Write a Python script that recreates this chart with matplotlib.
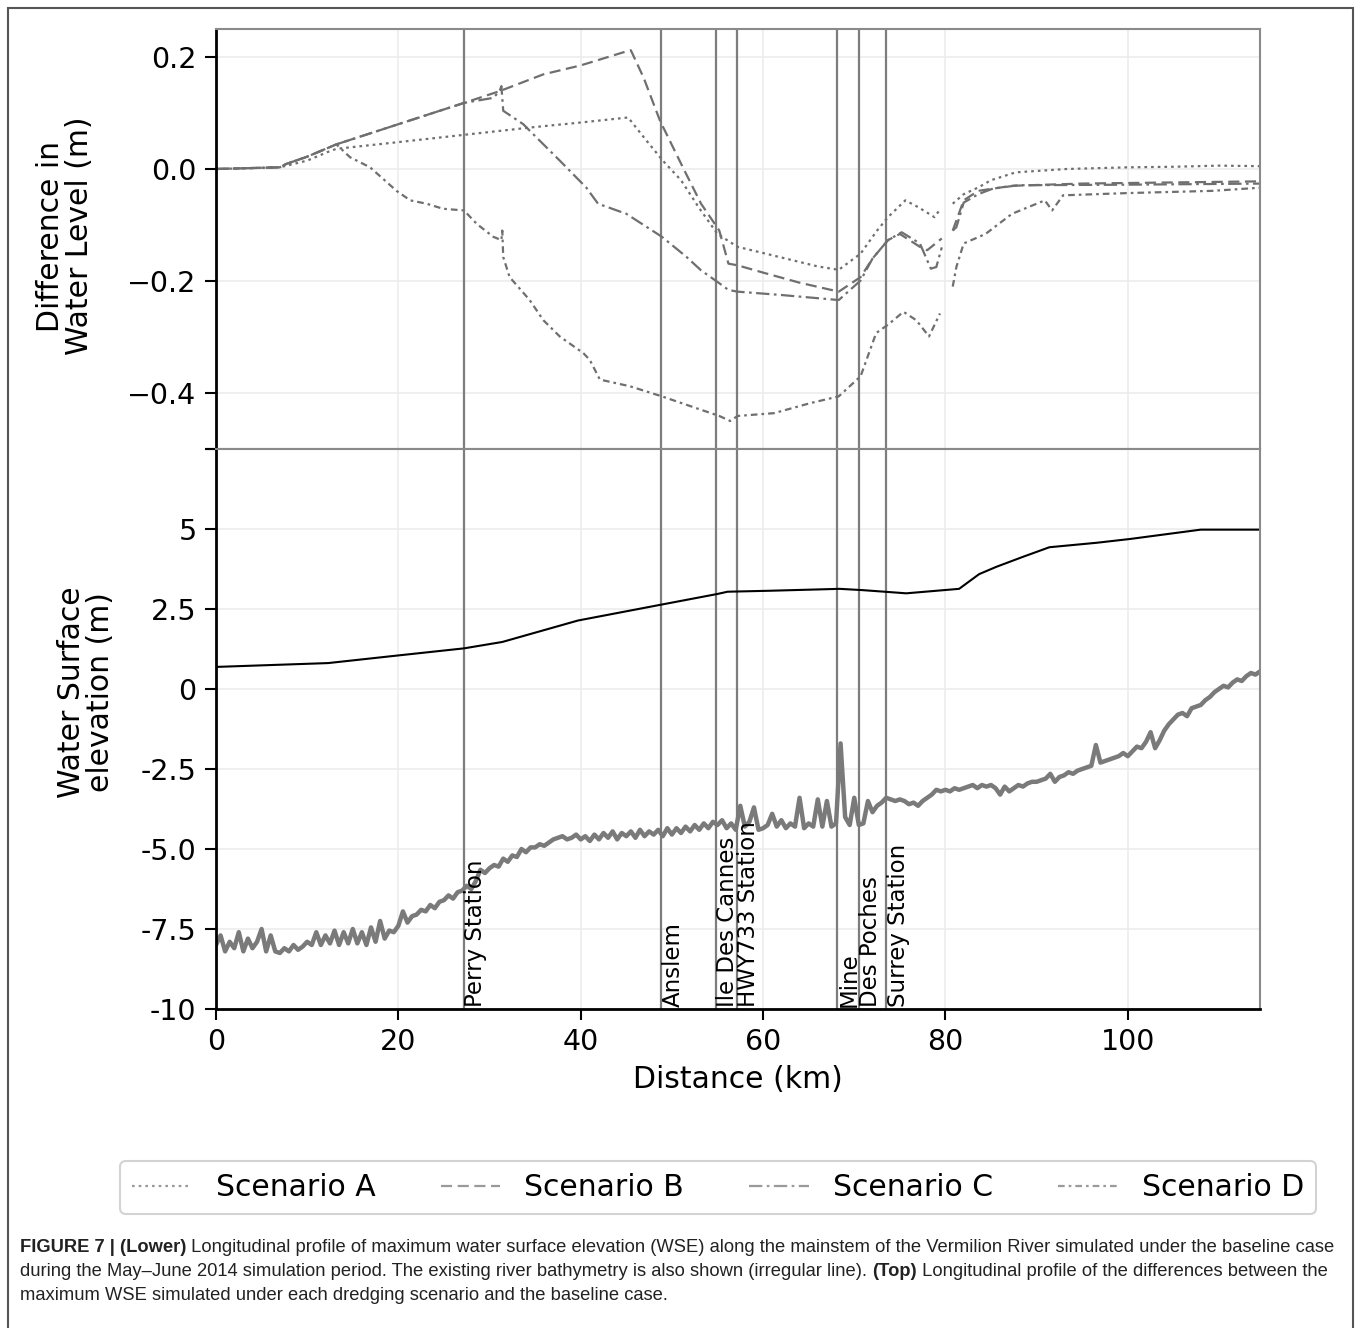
import numpy as np
import matplotlib
matplotlib.use("Agg")
import matplotlib.pyplot as plt
from matplotlib import font_manager
from matplotlib.patches import Rectangle

# ---- data ----
stations = ["Perry Station", "Anslem", "Ile Des Cannes", "HWY733 Station",
            "Mine", "Des Poches", "Surrey Station"]
station_km = [27.2, 48.8, 54.8, 57.1, 68.1, 70.5, 73.5]

nan = np.nan
a_x = [0, 7, 10, 12.5, 13.2, 20, 27.2, 35, 40, 45.2, 47, 49, 51, 53, 55, 57.2, 60, 63, 66,
       68.3, 70.7, 72.5, 73.7, 75.6, 77, 78.8, 79.5, nan, 80.8, 82, 83.6, 85, 87.7, 93.3,
       100, 105, 110, 114.9]
a_y = [0, 0.003, 0.015, 0.032, 0.036, 0.048, 0.061, 0.075, 0.083, 0.092, 0.055, 0.015,
       -0.02, -0.07, -0.116, -0.139, -0.150, -0.162, -0.174, -0.180, -0.151, -0.11, -0.086,
       -0.056, -0.068, -0.086, -0.07, nan, -0.062, -0.045, -0.033, -0.02, -0.006, 0.0,
       0.003, 0.004, 0.006, 0.005]

b_x = [0, 7, 7.7, 10, 13.2, 20, 27.2, 31.1, 35.9, 40, 45.0, 45.5, 46.9, 48.7, 51.2, 53.2,
       55.2, 56.2, 57.2, 60, 64, 68.3, 70.7, 72, 73.7, 75.0, 77.2, 78.0, 79.6, nan, 80.8,
       82.0, 83.6, 87.3, 95, 105, 114.9]
b_y = [0, 0.003, 0.009, 0.022, 0.044, 0.080, 0.118, 0.139, 0.169, 0.185, 0.210, 0.212,
       0.163, 0.086, 0.003, -0.062, -0.11, -0.169, -0.172, -0.185, -0.203, -0.219, -0.193,
       -0.16, -0.127, -0.116, -0.139, -0.145, -0.124, nan, -0.11, -0.056, -0.039, -0.030,
       -0.026, -0.024, -0.022]

c_x = [0, 7, 7.7, 10, 13.2, 20, 27.2, 30.4, 31.1, 31.3, 31.5, 33.7, 34.8, 37.7, 40.6, 41.9,
       45.0, 48.9, 51.6, 53.2, 55.2, 56.2, 57.2, 62, 68.3, 70.7, 72, 73.7, 75.2, 77.2, 78.4,
       79.0, 79.6, nan, 80.8, 81.2, 82.0, 83.6, 85.2, 88, 100, 114.9]
c_y = [0, 0.003, 0.009, 0.022, 0.044, 0.080, 0.118, 0.127, 0.139, 0.148, 0.104, 0.08,
       0.062, 0.015, -0.033, -0.062, -0.08, -0.121, -0.157, -0.181, -0.204, -0.216, -0.219,
       -0.225, -0.234, -0.199, -0.16, -0.127, -0.113, -0.133, -0.178, -0.175, -0.14, nan,
       -0.11, -0.104, -0.06, -0.045, -0.035, -0.029, -0.028, -0.026]

d_x = [0, 7, 7.7, 10, 13.2, 14.7, 16.9, 19.8, 21.3, 23.1, 24.9, 27.2, 28.6, 30.4, 31.3,
       31.4, 31.5, 32.2, 34.4, 35.9, 37.7, 40.3, 41.0, 42.1, 45.4, 48.9, 53.2, 55.2, 56.4,
       57.2, 61.2, 65.2, 68.3, 70.7, 72.4, 73.7, 75.4, 76.8, 78.2, 79.4, nan, 80.8, 81.2,
       82.0, 84.4, 87.3, 90.9, 91.7, 92.9, 100, 109.3, 114.9]
d_y = [0, 0.003, 0.009, 0.022, 0.044, 0.021, 0.003, -0.039, -0.056, -0.062, -0.071, -0.074,
       -0.098, -0.121, -0.127, -0.11, -0.157, -0.193, -0.234, -0.270, -0.299, -0.329,
       -0.341, -0.376, -0.388, -0.406, -0.43, -0.441, -0.45, -0.441, -0.436, -0.418, -0.406,
       -0.370, -0.293, -0.278, -0.255, -0.27, -0.299, -0.258, nan, -0.21, -0.175, -0.133,
       -0.116, -0.08, -0.056, -0.074, -0.047, -0.043, -0.039, -0.033]

wse_x = [0, 12.3, 19.7, 27.2, 31.4, 39.7, 48.9, 55.0, 56.1, 60.7, 68.4, 70.9, 73.8, 75.7,
         81.5, 83.7, 85.6, 88.5, 91.4, 96.6, 100.3, 108.0, 114.9]
wse_y = [0.69, 0.81, 1.04, 1.27, 1.47, 2.14, 2.64, 2.97, 3.04, 3.07, 3.13, 3.09, 3.03, 2.99,
         3.13, 3.59, 3.82, 4.13, 4.43, 4.57, 4.69, 4.98, 4.98]

bed_y = [
    -8.0, -7.7, -8.2, -7.9, -8.1, -7.6, -8.2, -7.8, -8.1, -7.9,
    -7.5, -8.2, -7.7, -8.2, -8.25, -8.1, -8.2, -8.0, -8.15, -8.05,
    -7.9, -8.0, -7.6, -8.0, -7.7, -7.95, -7.55, -8.0, -7.6, -7.95,
    -7.5, -7.95, -7.6, -8.0, -7.45, -7.9, -7.25, -7.8, -7.55, -7.6,
    -7.4, -6.95, -7.3, -7.1, -7.05, -6.9, -6.95, -6.75, -6.85, -6.65,
    -6.6, -6.45, -6.55, -6.35, -6.3, -6.15, -6.25, -6.0, -5.65, -5.75,
    -5.6, -5.5, -5.55, -5.3, -5.4, -5.2, -5.25, -5.0, -5.1, -4.95,
    -4.95, -4.85, -4.9, -4.8, -4.7, -4.65, -4.6, -4.7, -4.65, -4.55,
    -4.7, -4.6, -4.75, -4.55, -4.7, -4.5, -4.65, -4.45, -4.7, -4.5,
    -4.6, -4.45, -4.65, -4.4, -4.6, -4.45, -4.55, -4.4, -4.6, -4.35,
    -4.55, -4.35, -4.5, -4.3, -4.45, -4.25, -4.4, -4.2, -4.35, -4.15,
    -4.25, -4.1, -4.35, -4.2, -4.4, -3.65, -4.3, -4.15, -3.7, -4.4,
    -4.35, -4.25, -3.9, -4.3, -4.1, -4.35, -4.2, -4.3, -3.4, -4.35,
    -4.2, -4.3, -3.45, -4.3, -3.5, -4.3, -4.2, -1.7, -4.0, -4.25,
    -3.4, -4.25, -4.2, -3.5, -3.85, -3.65, -3.55, -3.4, -3.45, -3.5,
    -3.45, -3.5, -3.6, -3.55, -3.65, -3.5, -3.4, -3.3, -3.15, -3.2,
    -3.15, -3.2, -3.1, -3.15, -3.1, -3.05, -3.0, -3.1, -3.0, -3.05,
    -3.0, -3.1, -3.3, -3.05, -3.2, -3.1, -3.0, -3.05, -2.95, -2.9,
    -2.9, -2.85, -2.8, -2.65, -2.9, -2.75, -2.7, -2.6, -2.65, -2.55,
    -2.5, -2.45, -2.4, -1.75, -2.3, -2.25, -2.2, -2.15, -2.1, -2.0,
    -2.1, -1.95, -1.8, -1.85, -1.65, -1.35, -1.85, -1.6, -1.3, -1.1,
    -0.95, -0.8, -0.75, -0.85, -0.6, -0.55, -0.5, -0.35, -0.25, -0.1,
    0.0, 0.1, 0.05, 0.2, 0.3, 0.25, 0.4, 0.5, 0.45, 0.55,
    0.4]
bed_x = list(np.arange(0, 115, 0.5)) + [114.9]

bottom_ticks = [-10, -7.5, -5, -2.5, 0, 2.5, 5, 7.5]
bottom_labels = ["-10", "-7.5", "-5.0", "-2.5", "0", "2.5", "5", ""]
top_ticks = [-0.5, -0.4, -0.2, 0.0, 0.2]
top_labels = ["", "\u22120.4", "\u22120.2", "0.0", "0.2"]

caption = [
    [("FIGURE 7 | (Lower)", "bold"),
     (" Longitudinal profile of maximum water surface elevation (WSE) along the mainstem "
      "of the Vermilion River simulated under the baseline case", "normal")],
    [("during the May\u2013June 2014 simulation period. The existing river bathymetry is "
      "also shown (irregular line). ", "normal"), ("(Top)", "bold"),
     (" Longitudinal profile of the differences between the", "normal")],
    [("maximum WSE simulated under each dredging scenario and the baseline case.", "normal")],
]


def pick_font(names):
    for n in names:
        try:
            font_manager.findfont(n, fallback_to_default=False)
            return n
        except ValueError:
            pass
    return "DejaVu Sans"


W, H = 1358, 1328
fig = plt.figure(figsize=(W / 100, H / 100), dpi=100)
L, R = 216 / W, 1260 / W
ax1 = fig.add_axes([L, 1 - 449 / H, R - L, 420 / H])
ax2 = fig.add_axes([L, 1 - 1009 / H, R - L, 560 / H], sharex=ax1)

gray = "#6f6f6f"
grid_kw = dict(color="#ececec", lw=1.2)

ax1.plot(a_x, a_y, color=gray, lw=1.6, ls=(0, (1.2, 1.8)), label="Scenario A")
ax1.plot(b_x, b_y, color=gray, lw=1.6, ls=(0, (5, 2.5)), label="Scenario B")
ax1.plot(c_x, c_y, color=gray, lw=1.6, ls=(0, (6, 2, 1.2, 2)), label="Scenario C")
ax1.plot(d_x, d_y, color=gray, lw=1.6, ls=(0, (3, 1.8, 1.2, 1.8)), label="Scenario D")

ax2.plot(bed_x, bed_y, color="#7a7a7a", lw=3.2)
ax2.plot(wse_x, wse_y, color="black", lw=1.5)

for ax in (ax1, ax2):
    for km in station_km:
        ax.axvline(km, color="#7d7d7d", lw=1.6, zorder=1)
    ax.grid(True, **grid_kw)
    ax.set_axisbelow(True)
    ax.set_xlim(0, 114.5)
    for s in ("top", "right", "bottom"):
        ax.spines[s].set_color("#8a8a8a")
        ax.spines[s].set_linewidth(1.5)
    ax.spines["left"].set_color("black")
    ax.spines["left"].set_linewidth(2)
    ax.tick_params(axis="y", labelsize=20.5, length=8, width=1.5, pad=6)

ax2.spines["bottom"].set_color("black")
ax2.spines["bottom"].set_linewidth(2)

ax1.set_ylim(-0.5, 0.25)
ax1.set_yticks(top_ticks)
ax1.set_yticklabels(top_labels)
ax1.tick_params(axis="x", bottom=False, labelbottom=False)

ax2.set_ylim(-10, 7.5)
ax2.set_yticks(bottom_ticks)
ax2.set_yticklabels(bottom_labels)
ax2.set_xticks([0, 20, 40, 60, 80, 100])
ax2.tick_params(axis="x", labelsize=20.5, length=8, width=1.5, pad=6)
ax2.set_xlabel("Distance (km)", fontsize=21.5, labelpad=6)

ax1.set_ylabel("Difference in\nWater Level (m)", fontsize=21.5, linespacing=1.0)
ax1.yaxis.set_label_coords(-0.117, 0.507)
ax2.set_ylabel("Water Surface\nelevation (m)", fontsize=21.5, linespacing=1.0)
ax2.yaxis.set_label_coords(-0.097, 0.566)

for name, km in zip(stations, station_km):
    ax2.text(km + 0.05, -9.93, name, rotation=90, ha="left", va="bottom",
             fontsize=16.5, color="black")

leg = fig.legend(loc="lower left", ncol=4, mode="expand", fontsize=21.5,
                 bbox_to_anchor=(120 / W, 1 - 1214 / H, 1196 / W, 62 / H),
                 frameon=True, fancybox=True, handlelength=2.0, borderaxespad=0)
leg.get_frame().set_edgecolor("#c8c8c8")
leg.get_frame().set_linewidth(1.5)
for h in leg.get_lines():
    h.set_color("#9a9a9a")

# outer border of the figure panel
fig.add_artist(Rectangle((8 / W, -0.02), (1353 - 8) / W, 1.02 - 8 / H,
                         transform=fig.transFigure, fill=False, ec="#555555", lw=1.5,
                         clip_on=False))

# caption with bold runs
cap_font = pick_font(["Liberation Sans Narrow", "Liberation Sans"])
renderer = fig.canvas.get_renderer()


def draw_line(runs, x0, y, size):
    x = x0
    for txt, wt in runs:
        t = fig.text(x, y, txt, fontsize=size, fontweight=wt, family=cap_font,
                     color="#222222", ha="left", va="baseline")
        bb = t.get_window_extent(renderer)
        x += bb.width / W
    return x


# fit the first line to its width in the picture
probe = draw_line(caption[0], 0, -1, 10)
for t in list(fig.texts):
    t.remove()
scale = ((1338 - 20) / W) / probe
cap_size = 10 * scale
for i, runs in enumerate(caption):
    draw_line(runs, 20 / W, 1 - (1252 + 24 * i) / H, cap_size)

fig.savefig("out.png", dpi=100)
